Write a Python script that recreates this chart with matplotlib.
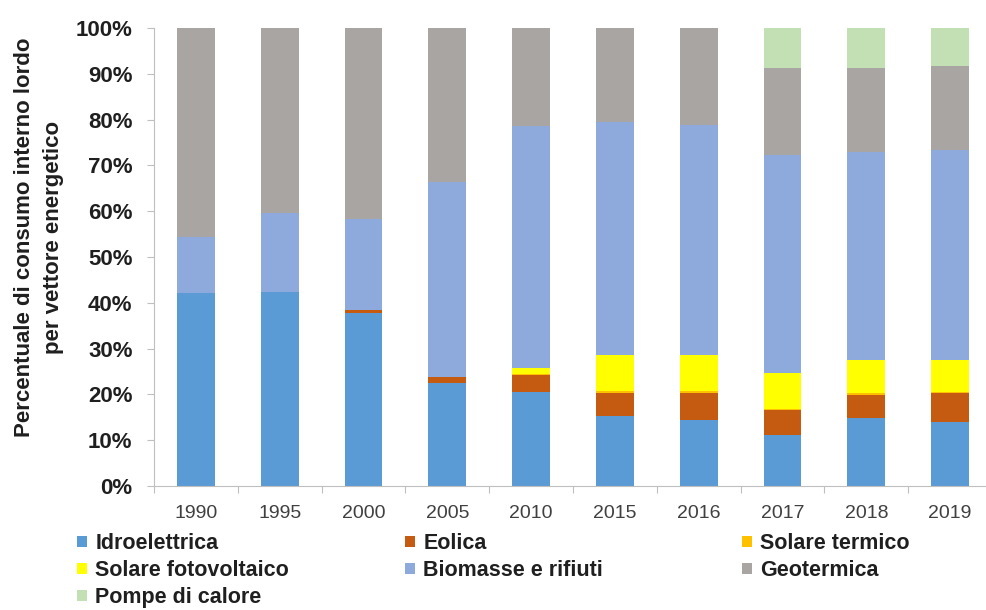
import matplotlib
matplotlib.use('Agg')
import matplotlib.pyplot as plt
from matplotlib.patches import Patch
from matplotlib.ticker import FixedLocator, PercentFormatter

plt.rcParams['font.family'] = ['Liberation Sans', 'DejaVu Sans']

years = ['1990', '1995', '2000', '2005', '2010', '2015', '2016', '2017', '2018', '2019']

# share of gross inland consumption per energy source (%)
idroelettrica = [42.1, 42.3, 37.7, 22.4, 20.6, 15.3, 14.4, 11.1, 14.8, 14.0]
eolica = [0.0, 0.0, 0.7, 1.5, 3.6, 5.1, 6.0, 5.5, 5.1, 6.2]
solare_termico = [0.0, 0.0, 0.0, 0.0, 0.3, 0.3, 0.3, 0.3, 0.3, 0.3]
solare_fotovoltaico = [0.0, 0.0, 0.0, 0.0, 1.2, 7.8, 7.8, 7.7, 7.3, 7.0]
biomasse_rifiuti = [12.3, 17.2, 20.0, 42.4, 52.8, 51.0, 50.3, 47.7, 45.5, 45.9]
geotermica = [45.6, 40.5, 41.6, 33.7, 21.5, 20.5, 21.2, 18.9, 18.3, 18.3]
pompe_calore = [0.0, 0.0, 0.0, 0.0, 0.0, 0.0, 0.0, 8.8, 8.7, 8.3]

series = [
    ('Idroelettrica', idroelettrica, '#5B9BD5'),
    ('Eolica', eolica, '#C55A11'),
    ('Solare termico', solare_termico, '#FFC000'),
    ('Solare fotovoltaico', solare_fotovoltaico, '#FFFF00'),
    ('Biomasse e rifiuti', biomasse_rifiuti, '#8EA9DB'),
    ('Geotermica', geotermica, '#A9A5A2'),
    ('Pompe di calore', pompe_calore, '#C3DFB4'),
]

fig = plt.figure(figsize=(9.86, 6.1), dpi=100)
ax = fig.add_axes([154 / 986, 124 / 610, 838 / 986, 458 / 610])

x = list(range(len(years)))
bottom = [0.0] * len(years)
for name, vals, col in series:
    ax.bar(x, vals, width=0.45, bottom=bottom, color=col, label=name, linewidth=0)
    bottom = [b + v for b, v in zip(bottom, vals)]

ax.set_xlim(-0.5, len(years) - 0.5)
ax.set_ylim(0, 100)

# axes styling
for s in ['top', 'right']:
    ax.spines[s].set_visible(False)
ax.spines['left'].set_color('#BFBFBF')
ax.spines['bottom'].set_color('#BFBFBF')

ax.set_yticks(range(0, 101, 10))
ax.yaxis.set_major_formatter(PercentFormatter(decimals=0))
ax.tick_params(axis='y', length=5, width=0.8, color='#BFBFBF', pad=10.5,
               labelsize=16, labelcolor='#1F1F1F')
for lbl in ax.get_yticklabels():
    lbl.set_fontweight('bold')

ax.set_xticks(x)
ax.set_xticklabels(years)
ax.tick_params(axis='x', length=0, pad=14, labelsize=14, labelcolor='#404040')
ax.xaxis.set_minor_locator(FixedLocator([i - 0.5 for i in range(len(years) + 1)]))
ax.tick_params(axis='x', which='minor', length=5, width=0.8, color='#BFBFBF')

fig.text(39 / 986, 1 - 237 / 610,
         'Percentuale di consumo interno lordo\nper vettore energetico',
         rotation=90, ha='center', va='center', multialignment='center',
         fontsize=16, fontweight='bold', color='#1F1F1F', linespacing=1.5)

# legend laid out row by row in three columns
handles = [Patch(facecolor=col, edgecolor='none', label=name) for name, vals, col in series]
columns = [[0, 3, 6], [1, 4], [2, 5]]
col_x = [77, 405, 742]
for idx, cx in zip(columns, col_x):
    leg = fig.legend(handles=[handles[i] for i in idx], loc='upper left',
                     bbox_to_anchor=(cx / 986, 1 - 533 / 610), frameon=False,
                     borderpad=0, borderaxespad=0, handlelength=0.45, handleheight=0.45,
                     handletextpad=0.4, labelspacing=0.28, fontsize=15.5)
    for t in leg.get_texts():
        t.set_fontweight('bold')
        t.set_color('#1F1F1F')

fig.savefig('out.png', dpi=100)
